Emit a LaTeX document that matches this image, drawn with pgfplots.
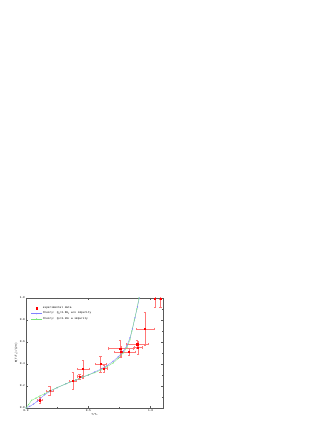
\documentclass[border=0pt]{standalone}
\usepackage{fontspec}
\setmainfont{Liberation Mono}
\usepackage{pgfplots}
\pgfplotsset{compat=1.18}
\definecolor{tblue}{RGB}{130,130,255}
\definecolor{tgreen}{RGB}{120,230,120}
\definecolor{ered}{RGB}{255,120,120}
\newcommand{\sub}[1]{\raisebox{-0.35ex}{\fontsize{2}{2}\selectfont #1}}
\pgfplotsset{mylegend/.style={legend image code/.code={\draw[mark repeat=2,mark phase=2,##1] plot coordinates {(0pt,0pt) (5.5pt,0pt) (11pt,0pt)};}}}
\begin{document}
\begin{tikzpicture}[x=1pt,y=1pt]
\path[use as bounding box] (0,0) rectangle (332,430);
\begin{axis}[at={(26pt,22pt)}, anchor=south west, scale only axis,
  width=137pt, height=110pt,
  xmin=0, xmax=1.1, ymin=0, ymax=1,
  xtick={0,0.5,1}, xticklabels={0.0,0.5,1.0},
  ytick={0,0.2,0.4,0.6,0.8,1.0}, yticklabels={0.0,0.2,0.4,0.6,0.8,1.0},
  minor x tick num=1, minor y tick num=1,
  tick align=inside, major tick length=2pt, minor tick length=1pt,
  axis line style={gray!70!black, line width=0.3pt},
  tick style={gray!70!black, line width=0.3pt},
  font=\fontsize{2.8}{3.2}\selectfont,
  ticklabel style={font=\fontsize{2.8}{3.2}\selectfont, inner sep=1pt},
  /pgf/number format/assume math mode=true,
  xlabel={T/T\sub{c}}, ylabel={Φ(T/T\sub{c})/(2π)},
  xlabel style={font=\fontsize{2.8}{3.2}\selectfont, inner sep=1pt},
  ylabel style={font=\fontsize{2.8}{3.2}\selectfont, inner sep=1pt},
  legend cell align=left,
  legend style={at={(0.035,0.93)}, anchor=north west, draw=none, fill=none,
    inner sep=0pt, row sep=0.6pt, font=\fontsize{2.8}{3.2}\selectfont,
    nodes={inner sep=0.6pt}},
  clip=true,
]
\addplot[only marks, red, mark=square*, mark size=0.6pt, mylegend,
  error bars/.cd, x dir=both, x explicit, y dir=both, y explicit,
  error bar style={ered, line width=0.3pt},
  error mark options={ered, line width=0.3pt, mark size=1.2pt, rotate=90}]
  table[x=x, y=y, x error=ex, y error=ey] {
x     y     ex    ey
0.112 0.070 0.020 0.030
0.190 0.155 0.025 0.040
0.375 0.248 0.030 0.075
0.430 0.285 0.020 0.020
0.458 0.355 0.050 0.080
0.597 0.400 0.045 0.075
0.624 0.360 0.030 0.030
0.757 0.540 0.100 0.080
0.765 0.510 0.060 0.050
0.826 0.510 0.050 0.030
0.893 0.580 0.085 0.040
0.900 0.550 0.030 0.060
0.955 0.720 0.070 0.150
1.035 0.990 0.000 0.070
1.080 0.990 0.000 0.070
};
\addlegendentry{experimental data}
\addplot[tblue, line width=0.35pt, mark=o, mark size=0.6pt, mark options={line width=0.2pt}, mylegend]
  coordinates {
(0,0) (0.03,0.015) (0.06,0.035) (0.09,0.06) (0.112,0.085) (0.15,0.12) (0.19,0.15)
(0.25,0.185) (0.32,0.22) (0.40,0.255) (0.45,0.28) (0.50,0.30) (0.55,0.327)
(0.60,0.353) (0.65,0.385) (0.70,0.425) (0.74,0.465) (0.78,0.515) (0.81,0.565)
(0.835,0.64) (0.855,0.72) (0.875,0.82) (0.895,0.92) (0.91,1.0)
};
\addlegendentry{theory: Q\sub{0}=2.8E\sub{F} w/o impurity}
\addplot[tgreen, line width=0.35pt, mark=triangle, mark size=0.7pt, mark options={line width=0.2pt}, mylegend]
  coordinates {
(0,0) (0.02,0.03) (0.045,0.07) (0.08,0.09) (0.112,0.11) (0.15,0.13) (0.19,0.155)
(0.25,0.185) (0.32,0.22) (0.40,0.255) (0.45,0.28) (0.50,0.30) (0.55,0.32)
(0.60,0.345) (0.65,0.375) (0.70,0.41) (0.74,0.45) (0.78,0.50) (0.81,0.55)
(0.835,0.62) (0.85,0.70) (0.87,0.80) (0.89,0.90) (0.907,1.0)
};
\addlegendentry{theory: Q\sub{0}=3.2E\sub{F} w impurity}
\end{axis}
\end{tikzpicture}
\end{document}
